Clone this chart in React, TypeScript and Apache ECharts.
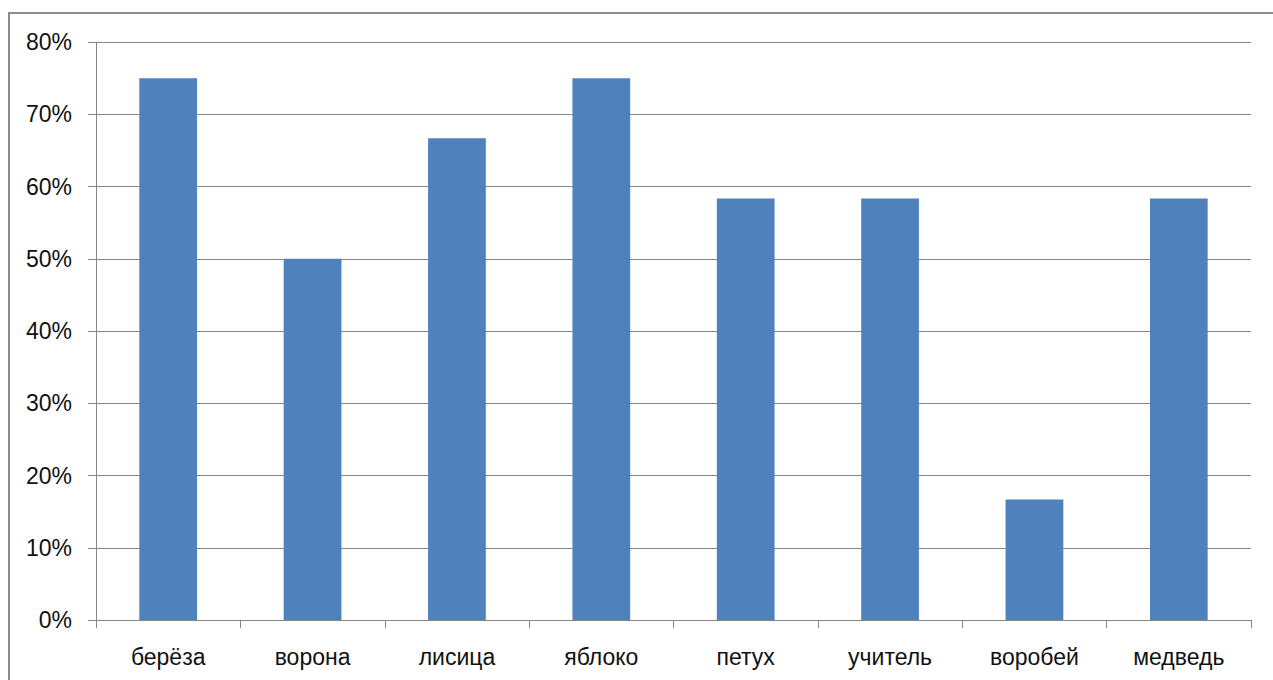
import React, { useEffect, useRef } from "react";
import * as echarts from "echarts";

const categories = ["берёза", "ворона", "лисица", "яблоко", "петух", "учитель", "воробей", "медведь"];
const values = [75, 50, 66.67, 75, 58.33, 58.33, 16.67, 58.33];
const yTicks = [0, 10, 20, 30, 40, 50, 60, 70, 80];

export default function App() {
  const ref = useRef<HTMLDivElement>(null);
  useEffect(() => {
    if (!ref.current) return;
    const chart = echarts.init(ref.current, null, { renderer: "svg" });
    const font = "'Liberation Sans', Arial, sans-serif";
    chart.setOption({
      animation: false,
      backgroundColor: "#ffffff",
      graphic: [
        {
          type: "rect",
          shape: { x: 9, y: 13, width: 1300, height: 700 },
          style: { fill: "none", stroke: "#8c8c8c", lineWidth: 2 },
          silent: true,
        },
      ],
      grid: { left: 96, right: 22, top: 42, bottom: 60 },
      xAxis: {
        type: "category",
        data: categories,
        axisLine: { lineStyle: { color: "#868686", width: 1 } },
        axisTick: { show: true, length: 8, alignWithLabel: false, lineStyle: { color: "#868686" } },
        axisLabel: { color: "#111", fontSize: 23, fontFamily: font, margin: 25, interval: 0 },
        splitLine: { show: false },
      },
      yAxis: {
        type: "value",
        min: yTicks[0],
        max: yTicks[yTicks.length - 1],
        interval: 10,
        axisLine: { show: true, lineStyle: { color: "#868686", width: 1 } },
        axisTick: { show: true, length: 8, lineStyle: { color: "#868686" } },
        axisLabel: { color: "#111", fontSize: 23, fontFamily: font, margin: 24, formatter: "{value}%" },
        splitLine: { show: true, lineStyle: { color: "#868686", width: 1 } },
      },
      series: [
        {
          type: "bar",
          data: values,
          barWidth: "40%",
          itemStyle: { color: "#4F81BD" },
        },
      ],
    });
    return () => chart.dispose();
  }, []);
  return (
    <div
      ref={ref}
      style={{ position: "fixed", left: 0, top: 0, width: 1273, height: 680 }}
    />
  );
}
